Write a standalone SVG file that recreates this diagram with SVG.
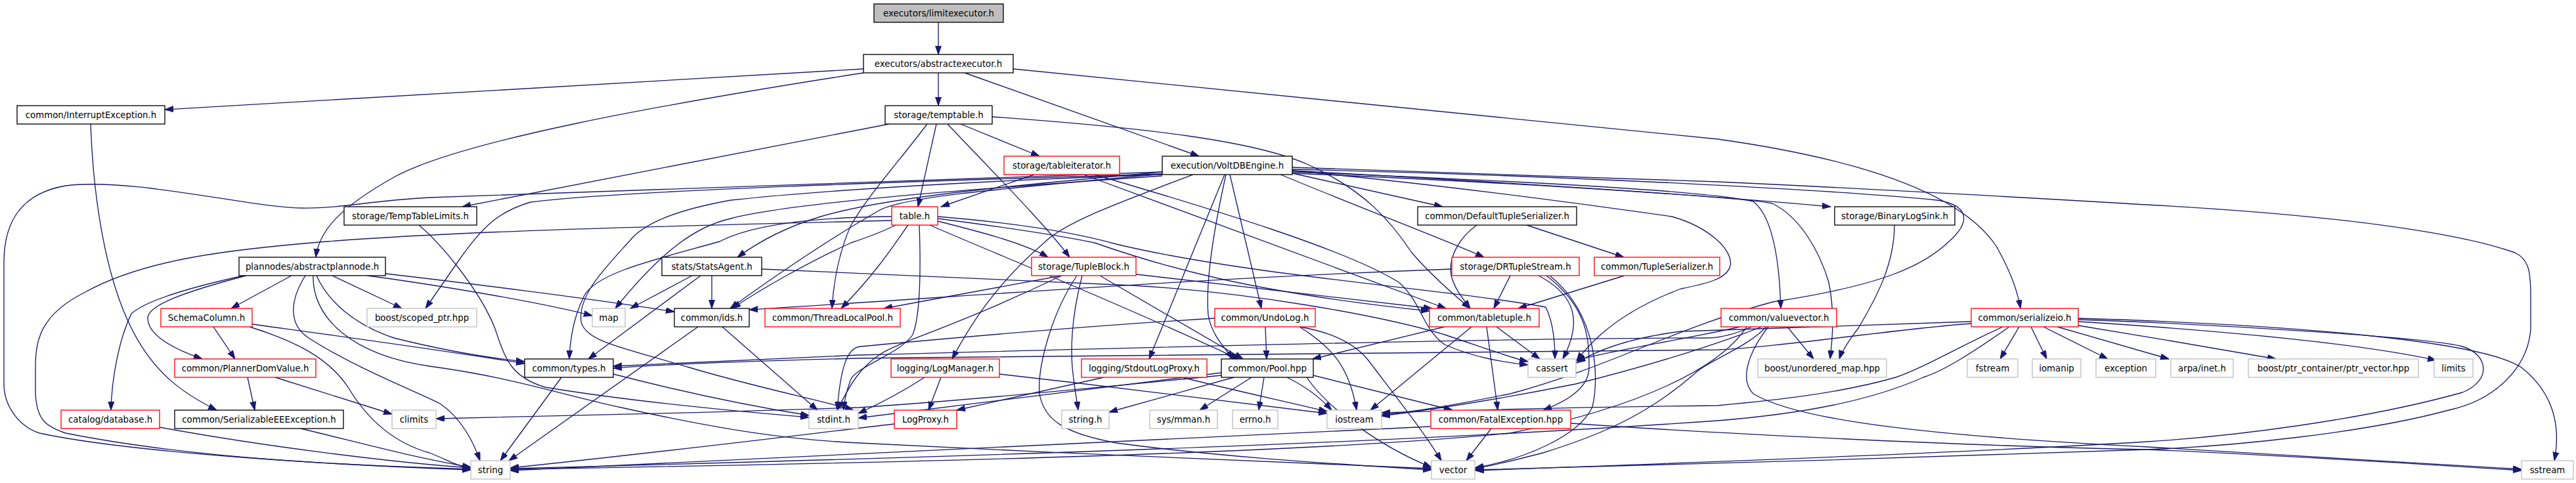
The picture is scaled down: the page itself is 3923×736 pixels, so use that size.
<svg xmlns="http://www.w3.org/2000/svg" width="3923" height="736" viewBox="0 0 3923 736">
<style>
text{font-family:"DejaVu Sans","Liberation Sans",sans-serif;font-size:13.33px;fill:#000;text-anchor:middle}
.n rect{fill:#fff;stroke:#000;stroke-width:1.33}
.r rect{fill:#fff;stroke:#ff0000;stroke-width:1.33}
.g rect{fill:#fff;stroke:#bfbfbf;stroke-width:1.33}
.root rect{fill:#bfbfbf;stroke:#000;stroke-width:1.33}
#edges path{fill:none;stroke:#191970;stroke-width:1.33;marker-end:url(#ah)}
</style>
<defs>
<marker id="ah" markerUnits="userSpaceOnUse" markerWidth="14" markerHeight="10" refX="13" refY="4.5" orient="auto">
<path d="M0,0 L13,4.5 L0,9 z" fill="#191970" stroke="#191970" stroke-width="1"/>
</marker>
</defs>
<rect width="3923" height="736" fill="#fff"/>
<g id="edges">
<path d="M1429,34 L1429,83"/>
<path d="M1315,105 L251,167"/>
<path d="M1429,111 L1429,161"/>
<path d="M1469,111 L1826,238"/>
<path d="M1315,111 C1000,160 700,215 600,270 C520,315 486,350 481,392"/>
<path d="M1543,105 C2000,150 2450,195 2616,212 C2850,245 2990,300 3040,375 C3060,410 3072,440 3077,470"/>
<path d="M138,189 C142,300 160,420 200,500 C235,570 280,600 330,625"/>
<path d="M1354,189 L704,315"/>
<path d="M1412,189 C1370,245 1320,300 1295,345 C1280,380 1270,420 1267,470"/>
<path d="M1426,189 L1398,315"/>
<path d="M1443,189 C1510,260 1590,340 1629,392"/>
<path d="M1463,189 L1583,238"/>
<path d="M1511,178 C1750,195 1910,215 1990,250 C2080,290 2120,340 2150,385 C2180,420 2215,450 2239,470"/>
<path d="M1575,266 L1433,315"/>
<path d="M1650,266 L2202,470"/>
<path d="M1667,266 C1850,320 2050,380 2130,430 C2165,460 2165,500 2200,525 C2245,545 2290,552 2327,556"/>
<path d="M1770,262 C1400,275 900,292 654,301 C560,306 520,318 459,317 C380,316 200,270 100,283 C30,295 6,340 6,400 L6,585 C6,620 30,650 60,660 C200,690 500,708 717,716"/>
<path d="M1770,265 C1400,276 950,290 808,308 C760,322 735,345 700,395 L648,470"/>
<path d="M1770,268 C1450,290 1200,310 1113,333 C1060,345 1010,380 937,470"/>
<path d="M1770,262 C1550,282 1350,300 1250,330 C1200,345 1160,365 1123,392"/>
<path d="M1770,265 C1500,290 1380,300 1340,320 C1270,360 1180,420 1112,470"/>
<path d="M1770,266 C1500,275 1250,290 1113,305 C1030,320 980,340 958,368 C920,410 880,450 885,490 C890,520 950,530 1050,560 C1150,590 1250,610 1300,625"/>
<path d="M1817,266 C1700,310 1620,340 1590,370 C1520,430 1480,490 1450,547"/>
<path d="M1865,266 L1750,547"/>
<path d="M1867,266 C1855,320 1835,420 1840,480 C1845,510 1865,530 1878,547"/>
<path d="M1873,266 L1921,470"/>
<path d="M1968,264 L2197,315"/>
<path d="M1950,266 C2080,320 2200,365 2260,392"/>
<path d="M1968,260 C2300,278 2600,298 2788,315"/>
<path d="M1968,255 L2616,277 C2900,290 3150,305 3270,312 C3600,330 3760,360 3830,385 C3850,395 3854,410 3854,450 L3854,501 C3850,560 3800,610 3729,625 C3600,660 3400,680 3270,685 C3000,695 2500,710 2246,716"/>
<path d="M1968,258 C2400,268 2800,290 2950,305 C2995,312 3005,335 2968,368 C2930,405 2866,435 2700,460 C2550,500 2450,560 2300,600 C2200,620 2150,628 2104,632"/>
<path d="M1968,262 C2300,275 2600,290 2670,307 C2700,330 2710,400 2712,470"/>
<path d="M1968,264 C2300,278 2650,300 2699,310 C2740,330 2770,380 2785,430 C2795,480 2790,520 2787,547"/>
<path d="M1968,260 C2200,282 2420,312 2546,330 C2600,345 2640,380 2635,405 C2630,425 2600,432 2560,440 C2480,470 2430,510 2401,550"/>
<path d="M638,343 C670,370 730,440 754,501 C770,550 780,575 830,590 C950,610 1100,625 1232,636"/>
<path d="M375,420 C280,445 225,465 225,485 C225,510 260,530 308,547"/>
<path d="M371,420 C280,440 220,460 200,478 C180,520 170,580 169,625"/>
<path d="M444,420 L352,470"/>
<path d="M465,420 C440,460 440,495 470,515 C540,560 630,595 670,615 C700,635 720,670 731,702"/>
<path d="M477,420 C475,480 530,540 654,558 C780,575 850,600 946,621 C1100,655 1200,670 1308,675 C1600,690 1950,705 2180,714"/>
<path d="M482,420 C500,460 540,495 600,515 C680,535 740,545 799,551"/>
<path d="M506,420 L612,470"/>
<path d="M559,420 C620,428 800,455 902,481"/>
<path d="M587,417 C700,430 900,455 1027,475"/>
<path d="M325,498 L358,547"/>
<path d="M384,494 C500,510 650,530 799,554"/>
<path d="M380,498 C450,520 500,545 530,590 C560,640 600,675 654,690 C680,700 695,710 717,714"/>
<path d="M377,575 L388,625"/>
<path d="M419,575 L597,631"/>
<path d="M243,651 C400,680 600,705 717,713"/>
<path d="M458,653 C550,675 620,695 717,712"/>
<path d="M1358,336 C1000,345 700,352 498,368 C350,380 220,395 130,445 C60,480 54,520 54,560 L54,600 C56,640 70,650 100,660 C300,700 550,710 717,715"/>
<path d="M1358,330 C1250,331 1150,340 1096,368 C1000,395 910,415 890,450 C875,480 868,515 867,547"/>
<path d="M1364,343 C1340,355 1320,362 1296,370 C1230,400 1160,440 1115,470"/>
<path d="M1383,343 C1370,360 1340,410 1281,470"/>
<path d="M1400,343 C1402,400 1402,480 1390,510 C1370,540 1300,560 1295,580 C1288,600 1286,610 1285,625"/>
<path d="M1416,343 C1500,380 1700,460 1886,547"/>
<path d="M1428,337 C1480,350 1560,370 1596,392"/>
<path d="M1428,333 C1520,345 1620,360 1667,370 C1767,405 1900,445 2177,474"/>
<path d="M1428,330 C1550,340 1640,355 1700,372 C1900,420 2200,440 2354,468 C2365,490 2368,520 2368,547"/>
<path d="M1054,420 L960,470"/>
<path d="M1067,420 L896,547"/>
<path d="M1084,420 L1084,470"/>
<path d="M1160,410 C1250,414 1400,420 1725,435 C1900,445 2100,480 2200,510 C2260,530 2300,545 2327,551"/>
<path d="M1617,420 L1346,470"/>
<path d="M1617,420 C1450,500 1370,520 1340,540 C1310,560 1295,585 1275,625"/>
<path d="M1648,420 C1635,470 1630,520 1633,560 C1636,590 1640,610 1642,625"/>
<path d="M1640,420 C1600,480 1580,560 1583,600 C1590,640 1620,660 1700,675 C1850,695 2000,705 2180,716"/>
<path d="M1675,420 L1893,547"/>
<path d="M1730,418 C1850,432 2000,450 2181,470"/>
<path d="M2300,420 L2275,470"/>
<path d="M2343,420 C2400,450 2410,490 2380,547"/>
<path d="M2355,420 C2420,470 2420,520 2420,560 C2420,590 2390,610 2350,625"/>
<path d="M2360,420 C2435,480 2435,580 2425,620 C2405,665 2320,700 2246,713"/>
<path d="M2211,410 C1800,425 1500,450 1141,472"/>
<path d="M2474,420 L2312,470"/>
<path d="M2325,343 L2473,392"/>
<path d="M2249,343 C2225,360 2205,390 2210,420 C2215,440 2228,455 2239,470"/>
<path d="M2885,343 C2885,400 2860,450 2830,500 C2815,520 2805,535 2801,547"/>
<path d="M1927,498 L1929,547"/>
<path d="M1979,498 C2020,505 2060,520 2083,548 C2130,610 2170,660 2195,702"/>
<path d="M1979,498 C2030,530 2055,560 2066,625"/>
<path d="M1850,485 C1600,500 1400,520 1310,528 C1290,530 1280,560 1275,625"/>
<path d="M2200,498 L1999,547"/>
<path d="M2241,498 L2087,625"/>
<path d="M2264,498 L2281,625"/>
<path d="M2279,498 L2345,547"/>
<path d="M2722,498 L2762,547"/>
<path d="M2668,498 C2640,510 2620,515 2600,515 C2300,515 1800,528 1308,541 C1150,548 1000,555 934,558"/>
<path d="M2650,498 C2550,520 2450,535 2401,549"/>
<path d="M2683,498 C2600,530 2500,560 2400,585 C2250,615 2150,628 2104,634"/>
<path d="M2690,498 C2660,530 2600,550 2580,570 C2500,640 2420,668 2350,690 C2300,703 2270,710 2247,714"/>
<path d="M2693,498 C2660,540 2650,580 2670,600 C2720,630 2850,660 3270,681 C3500,695 3700,705 3840,715"/>
<path d="M2660,498 C2620,560 2500,620 2300,660 C2000,690 1400,705 777,715"/>
<path d="M3075,498 L3046,547"/>
<path d="M3093,498 L3117,547"/>
<path d="M3112,498 L3210,547"/>
<path d="M3133,498 L3303,547"/>
<path d="M3165,496 C3250,510 3400,535 3466,547"/>
<path d="M3165,490 C3400,505 3600,525 3710,549"/>
<path d="M3165,485 C3500,495 3780,520 3840,560 C3890,600 3900,650 3890,702"/>
<path d="M3165,487 C3400,495 3700,515 3750,528 C3790,540 3795,580 3750,598 C3600,640 3400,665 3270,673 C3000,690 2500,708 2247,717"/>
<path d="M3002,493 C2900,500 2700,530 2616,533 C2300,535 1800,540 1308,546 C1150,550 1000,556 934,561"/>
<path d="M3002,490 C2800,497 2600,503 2560,505 C2480,515 2430,535 2401,553"/>
<path d="M3050,498 C2980,530 2930,560 2887,575 C2800,600 2700,610 2616,618 C2400,620 2200,626 2104,629"/>
<path d="M3060,498 C3000,540 2960,565 2929,575 C2850,610 2750,630 2616,641 C2200,670 1700,690 777,714"/>
<path d="M1433,575 L1414,625"/>
<path d="M1408,575 C1370,600 1340,615 1307,630"/>
<path d="M1522,570 C1700,590 1900,615 2021,630"/>
<path d="M1681,575 L1457,625"/>
<path d="M1800,575 C1880,595 1950,610 2021,627"/>
<path d="M1860,572 C1600,598 1400,615 1308,621 C1100,628 800,636 664,638"/>
<path d="M1860,568 C1600,600 1400,625 1307,637"/>
<path d="M1879,575 L1689,628"/>
<path d="M1906,575 L1827,625"/>
<path d="M1925,575 L1917,625"/>
<path d="M1960,575 C1990,590 2010,605 2028,625"/>
<path d="M2000,572 L2212,625"/>
<path d="M1990,575 C2020,620 2100,680 2180,712"/>
<path d="M1362,646 C1200,665 1000,690 777,713"/>
<path d="M2271,653 L2233,702"/>
<path d="M2178,650 C1800,670 1300,695 777,717"/>
<path d="M2392,645 C2600,660 3000,680 3270,685 C3500,695 3700,708 3840,717"/>
<path d="M934,570 C1050,600 1150,620 1232,633"/>
<path d="M855,575 L762,702"/>
<path d="M1063,498 L775,702"/>
<path d="M1100,498 L1245,625"/>
</g>
<g id="n0" class="root"><rect x="1331" y="6" width="197" height="28"/><text x="1429.5" y="25">executors/limitexecutor.h</text></g>
<g id="n1" class="n"><rect x="1315" y="83" width="228" height="28"/><text x="1429" y="102">executors/abstractexecutor.h</text></g>
<g id="n2" class="n"><rect x="26" y="161" width="225" height="28"/><text x="138.5" y="180">common/InterruptException.h</text></g>
<g id="n3" class="n"><rect x="1348" y="161" width="163" height="28"/><text x="1429.5" y="180">storage/temptable.h</text></g>
<g id="n4" class="r"><rect x="1529" y="238" width="176" height="28"/><text x="1617" y="257">storage/tableiterator.h</text></g>
<g id="n5" class="n"><rect x="1770" y="238" width="198" height="28"/><text x="1869" y="257">execution/VoltDBEngine.h</text></g>
<g id="n6" class="n"><rect x="524" y="315" width="202" height="28"/><text x="625" y="334">storage/TempTableLimits.h</text></g>
<g id="n7" class="r"><rect x="1358" y="315" width="70" height="28"/><text x="1393" y="334">table.h</text></g>
<g id="n8" class="n"><rect x="2159" y="315" width="242" height="28"/><text x="2280" y="334">common/DefaultTupleSerializer.h</text></g>
<g id="n9" class="n"><rect x="2794" y="315" width="183" height="28"/><text x="2885.5" y="334">storage/BinaryLogSink.h</text></g>
<g id="n10" class="n"><rect x="364" y="392" width="223" height="28"/><text x="475.5" y="411">plannodes/abstractplannode.h</text></g>
<g id="n11" class="n"><rect x="1008" y="392" width="152" height="28"/><text x="1084" y="411">stats/StatsAgent.h</text></g>
<g id="n12" class="r"><rect x="1571" y="392" width="159" height="28"/><text x="1650.5" y="411">storage/TupleBlock.h</text></g>
<g id="n13" class="r"><rect x="2211" y="392" width="194" height="28"/><text x="2308" y="411">storage/DRTupleStream.h</text></g>
<g id="n14" class="r"><rect x="2428" y="392" width="191" height="28"/><text x="2523.5" y="411">common/TupleSerializer.h</text></g>
<g id="n15" class="r"><rect x="245" y="470" width="139" height="28"/><text x="314.5" y="489">SchemaColumn.h</text></g>
<g id="n16" class="g"><rect x="559" y="470" width="167" height="28"/><text x="642.5" y="489">boost/scoped_ptr.hpp</text></g>
<g id="n17" class="g"><rect x="902" y="470" width="50" height="28"/><text x="927" y="489">map</text></g>
<g id="n18" class="n"><rect x="1027" y="470" width="114" height="28"/><text x="1084" y="489">common/ids.h</text></g>
<g id="n19" class="r"><rect x="1165" y="470" width="206" height="28"/><text x="1268" y="489">common/ThreadLocalPool.h</text></g>
<g id="n20" class="r"><rect x="1850" y="470" width="153" height="28"/><text x="1926.5" y="489">common/UndoLog.h</text></g>
<g id="n21" class="r"><rect x="2177" y="470" width="167" height="28"/><text x="2260.5" y="489">common/tabletuple.h</text></g>
<g id="n22" class="r"><rect x="2621" y="470" width="176" height="28"/><text x="2709" y="489">common/valuevector.h</text></g>
<g id="n23" class="r"><rect x="3002" y="470" width="163" height="28"/><text x="3083.5" y="489">common/serializeio.h</text></g>
<g id="n24" class="r"><rect x="266" y="547" width="215" height="28"/><text x="373.5" y="566">common/PlannerDomValue.h</text></g>
<g id="n25" class="n"><rect x="799" y="547" width="135" height="28"/><text x="866.5" y="566">common/types.h</text></g>
<g id="n26" class="r"><rect x="1357" y="547" width="165" height="28"/><text x="1439.5" y="566">logging/LogManager.h</text></g>
<g id="n27" class="r"><rect x="1647" y="547" width="191" height="28"/><text x="1742.5" y="566">logging/StdoutLogProxy.h</text></g>
<g id="n28" class="n"><rect x="1860" y="547" width="140" height="28"/><text x="1930" y="566">common/Pool.hpp</text></g>
<g id="n29" class="g"><rect x="2327" y="547" width="73" height="28"/><text x="2363.5" y="566">cassert</text></g>
<g id="n30" class="g"><rect x="2677" y="547" width="196" height="28"/><text x="2775" y="566">boost/unordered_map.hpp</text></g>
<g id="n31" class="g"><rect x="2996" y="547" width="77" height="28"/><text x="3034.5" y="566">fstream</text></g>
<g id="n32" class="g"><rect x="3095" y="547" width="74" height="28"/><text x="3132" y="566">iomanip</text></g>
<g id="n33" class="g"><rect x="3192" y="547" width="91" height="28"/><text x="3237.5" y="566">exception</text></g>
<g id="n34" class="g"><rect x="3306" y="547" width="95" height="28"/><text x="3353.5" y="566">arpa/inet.h</text></g>
<g id="n35" class="g"><rect x="3424" y="547" width="259" height="28"/><text x="3553.5" y="566">boost/ptr_container/ptr_vector.hpp</text></g>
<g id="n36" class="g"><rect x="3707" y="547" width="59" height="28"/><text x="3736.5" y="566">limits</text></g>
<g id="n37" class="r"><rect x="93" y="625" width="150" height="28"/><text x="168" y="644">catalog/database.h</text></g>
<g id="n38" class="n"><rect x="266" y="625" width="257" height="28"/><text x="394.5" y="644">common/SerializableEEException.h</text></g>
<g id="n39" class="g"><rect x="597" y="625" width="67" height="28"/><text x="630.5" y="644">climits</text></g>
<g id="n40" class="g"><rect x="1232" y="625" width="75" height="28"/><text x="1269.5" y="644">stdint.h</text></g>
<g id="n41" class="r"><rect x="1362" y="625" width="95" height="28"/><text x="1409.5" y="644">LogProxy.h</text></g>
<g id="n42" class="g"><rect x="1617" y="625" width="72" height="28"/><text x="1653" y="644">string.h</text></g>
<g id="n43" class="g"><rect x="1751" y="625" width="103" height="28"/><text x="1802.5" y="644">sys/mman.h</text></g>
<g id="n44" class="g"><rect x="1877" y="625" width="69" height="28"/><text x="1911.5" y="644">errno.h</text></g>
<g id="n45" class="g"><rect x="2021" y="625" width="83" height="28"/><text x="2062.5" y="644">iostream</text></g>
<g id="n46" class="r"><rect x="2179" y="625" width="213" height="28"/><text x="2285.5" y="644">common/FatalException.hpp</text></g>
<g id="n47" class="g"><rect x="717" y="702" width="60" height="28"/><text x="747" y="721">string</text></g>
<g id="n48" class="g"><rect x="2180" y="702" width="66" height="28"/><text x="2213" y="721">vector</text></g>
<g id="n49" class="g"><rect x="3840" y="702" width="79" height="28"/><text x="3879.5" y="721">sstream</text></g>
</svg>
